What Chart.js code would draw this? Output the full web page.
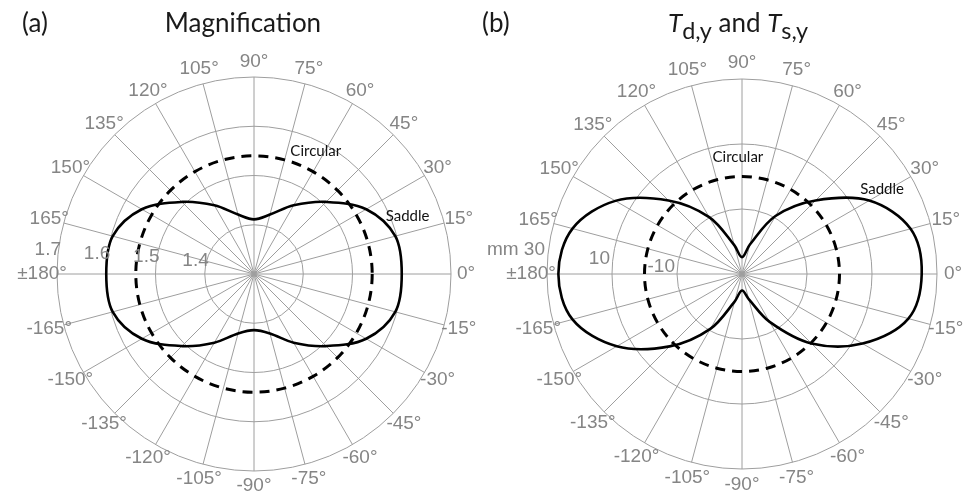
<!DOCTYPE html>
<html>
<head>
<meta charset="utf-8">
<script src="https://cdn.jsdelivr.net/npm/chart.js@4/dist/chart.umd.min.js"></script>
<style>
  html, body { margin: 0; padding: 0; background: #fff; }
  #wrap { position: relative; width: 968px; height: 504px; overflow: hidden; }
  canvas { position: absolute; top: 0; }
  .ttl { position: absolute; top: 8px; font-family: Lato, "Open Sans", sans-serif; font-size: 26px; color: #1a1a1a; white-space: nowrap; line-height: 1.1; }
  .ttl sub { font-size: 0.9em; vertical-align: -0.3em; line-height: 0; }
</style>
</head>
<body>
<div id="wrap">
  <canvas id="polarA" width="484" height="504" style="left:0"></canvas>
  <canvas id="polarB" width="484" height="504" style="left:484px"></canvas>
  <div class="ttl" style="left:22px">(a)</div>
  <div class="ttl" style="left:243px;transform:translateX(-50%)">Magnification</div>
  <div class="ttl" style="left:482px">(b)</div>
  <div class="ttl" style="left:738px;transform:translateX(-50%)"><i>T</i><sub>d,y</sub> and <i>T</i><sub>s,y</sub></div>
</div>
<script>
// polar angle of each spoke, in drawing order (radar goes clockwise from 0°)
const ANGLES = [0, -15, -30, -45, -60, -75, -90, -105, -120, -135, -150, -165,
                180, 165, 150, 135, 120, 105, 90, 75, 60, 45, 30, 15];
const ANGLE_LABELS = ['0°', '-15°', '-30°', '-45°', '-60°', '-75°', '-90°', '-105°', '-120°', '-135°', '-150°', '-165°',
                      '±180°', '165°', '150°', '135°', '120°', '105°', '90°', '75°', '60°', '45°', '30°', '15°'];

// (a) magnification
const MAG_TICKS = [1.3, 1.4, 1.5, 1.6, 1.7];
const MAG_TICK_LABELS = ['', '1.4', '1.5', '1.6', '1.7'];
const MAG_SADDLE = [1.600, 1.597, 1.563, 1.507, 1.461, 1.425, 1.414, 1.425, 1.461, 1.507, 1.563, 1.597,
                    1.600, 1.597, 1.563, 1.507, 1.461, 1.425, 1.411, 1.425, 1.461, 1.507, 1.563, 1.597];
const MAG_CIRCULAR = [1.54, 1.54, 1.54, 1.54, 1.54, 1.54, 1.54, 1.54, 1.54, 1.54, 1.54, 1.54,
                      1.54, 1.54, 1.54, 1.54, 1.54, 1.54, 1.54, 1.54, 1.54, 1.54, 1.54, 1.54];

// (b) Td,y and Ts,y (mm)
const T_TICKS = [-30, -10, 10, 30];
const T_TICK_LABELS = ['', '-10', '10', 'mm 30'];
const T_SADDLE = [25.3, 23.0, 12.8, 0.2, -13.0, -22.0, -24.9, -21.2, -10.5, 1.5, 14.5, 24.0,
                  26.5, 24.0, 15.0, 2.0, -9.8, -20.8, -24.8, -20.6, -9.4, 2.0, 15.2, 23.7];
const T_CIRCULAR = [0, 0, 0, 0, 0, 0, 0, 0, 0, 0, 0, 0,
                    0, 0, 0, 0, 0, 0, 0, 0, 0, 0, 0, 0];

const GRID = '#9e9e9e';
const LABEL_GREY = '#858585';

// angle labels, radial tick labels and curve names
const polarText = {
  id: 'polarText',
  afterDraw(chart, args, opts) {
    const s = chart.scales.r;
    const ctx = chart.ctx;
    ctx.save();
    ctx.font = '19px "Liberation Sans", Arial, sans-serif';
    ctx.fillStyle = LABEL_GREY;
    ctx.textAlign = 'center';
    ctx.textBaseline = 'middle';
    chart.data.labels.forEach((lab, i) => {
      const p = s.getPointPosition(i, s.drawingArea + opts.labelGap);
      ctx.fillText(lab, p.x, p.y);
    });
    ctx.textAlign = 'right';
    opts.ticks.forEach((v, i) => {
      const lab = opts.tickLabels[i];
      if (!lab) return;
      const d = s.getDistanceFromCenterForValue(v);
      ctx.fillText(lab, s.xCenter - d + opts.tickDx, s.yCenter - (opts.tickA + opts.tickB * d));
    });
    ctx.font = '15px Lato, "Open Sans", sans-serif';
    ctx.fillStyle = '#111';
    ctx.textAlign = 'center';
    opts.notes.forEach(n => {
      const a = n.deg * Math.PI / 180;
      const d = s.getDistanceFromCenterForValue(n.value);
      ctx.fillText(n.text, s.xCenter + d * Math.cos(a), s.yCenter - d * Math.sin(a));
    });
    ctx.restore();
  }
};

function makePolar(id, ticks, tickLabels, saddle, circular, padding, textOpts) {
  return new Chart(document.getElementById(id), {
    type: 'radar',
    data: {
      labels: ANGLE_LABELS,
      datasets: [
        { label: 'Saddle', data: saddle, borderColor: '#000', borderWidth: 2.6, fill: false,
          pointRadius: 0, tension: 0.34 },
        { label: 'Circular', data: circular, borderColor: '#000', borderWidth: 3, borderDash: [10, 7],
          fill: false, pointRadius: 0, tension: 0.34 }
      ]
    },
    options: {
      responsive: false,
      animation: false,
      layout: { padding: padding },
      plugins: {
        legend: { display: false },
        tooltip: { enabled: false },
        polarText: Object.assign({ ticks: ticks, tickLabels: tickLabels }, textOpts)
      },
      scales: {
        r: {
          min: ticks[0],
          max: ticks[ticks.length - 1],
          startAngle: 90,
          afterBuildTicks: s => { s.ticks = ticks.map(v => ({ value: v })); },
          ticks: { display: false },
          pointLabels: { display: false },
          grid: { circular: true, color: GRID, lineWidth: 1 },
          angleLines: { color: GRID, lineWidth: 1 }
        }
      }
    },
    plugins: [polarText]
  });
}

makePolar('polarA', MAG_TICKS, MAG_TICK_LABELS, MAG_SADDLE, MAG_CIRCULAR,
  { left: 57, right: 32, top: 77, bottom: 32 },
  { labelGap: 15, tickDx: 4, tickA: 10, tickB: 0.07,
    notes: [{ text: 'Circular', deg: 63.3, value: 1.579 }, { text: 'Saddle', deg: 20.6, value: 1.633 }] });

makePolar('polarB', T_TICKS, T_TICK_LABELS, T_SADDLE, T_CIRCULAR,
  { left: 63, right: 31, top: 79, bottom: 35 },
  { labelGap: 16, tickDx: -2, tickA: -2, tickB: 0.135,
    notes: [{ text: 'Circular', deg: 92, value: 5.9 }, { text: 'Saddle', deg: 31.2, value: 20.4 }] });
</script>
</body>
</html>
